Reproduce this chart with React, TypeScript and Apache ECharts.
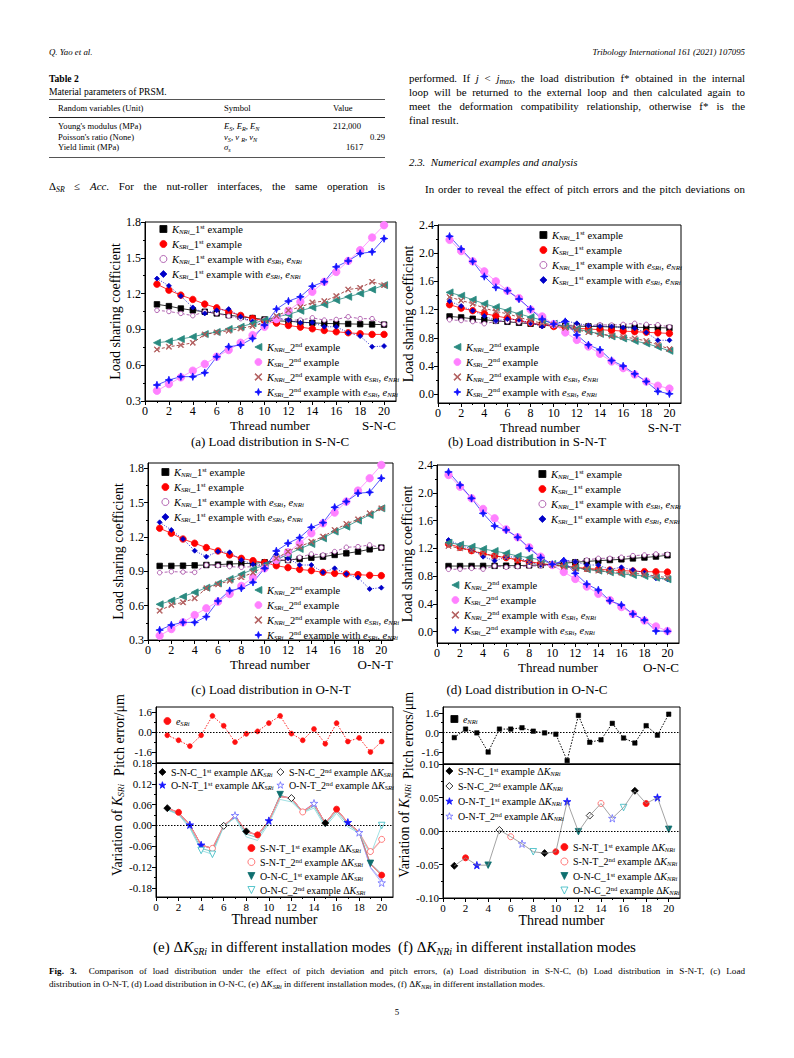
import React, { useEffect, useRef } from "react";
import * as echarts from "echarts";

const SERIF = "'Liberation Serif', 'Times New Roman', Times, serif";

// ---------- axes / ticks ----------
const THREADS = [1, 2, 3, 4, 5, 6, 7, 8, 9, 10, 11, 12, 13, 14, 15, 16, 17, 18, 19, 20];
const X_TICKS = [0, 2, 4, 6, 8, 10, 12, 14, 16, 18, 20];
const X_MINOR = [1, 3, 5, 7, 9, 11, 13, 15, 17, 19];
const Y_TICKS_A = [0.3, 0.6, 0.9, 1.2, 1.5, 1.8];
const Y_MINOR_A = [0.45, 0.75, 1.05, 1.35, 1.65];
const Y_TICKS_B = [0, 0.4, 0.8, 1.2, 1.6, 2.0, 2.4];
const Y_MINOR_B = [0.2, 0.6, 1.0, 1.4, 1.8, 2.2];
const PITCH_TICKS = [-1.6, 0, 1.6];
const PITCH_MINOR = [-0.8, 0.8];
const DKS_TICKS = [-0.18, -0.12, -0.06, 0, 0.06, 0.12, 0.18];
const DKS_MINOR = [-0.15, -0.09, -0.03, 0.03, 0.09, 0.15];
const DKN_TICKS = [-0.1, -0.05, 0, 0.05, 0.1];
const DKN_MINOR = [-0.075, -0.025, 0.025, 0.075];

// ---------- (a) S-N-C ----------
const SNC_KN1 = [1.11, 1.095, 1.075, 1.06, 1.048, 1.034, 1.02, 1.006, 0.995, 0.983, 0.972, 0.968, 0.961, 0.955, 0.95, 0.948, 0.946, 0.944, 0.942, 0.94];
const SNC_KS1 = [1.279, 1.229, 1.187, 1.151, 1.112, 1.081, 1.048, 1.017, 0.992, 0.972, 0.953, 0.933, 0.919, 0.905, 0.891, 0.88, 0.872, 0.864, 0.858, 0.858];
const SNC_KN1E = [1.06, 1.05, 1.034, 1.015, 1.048, 1.034, 1.012, 0.99, 0.97, 0.983, 0.992, 0.978, 0.978, 0.997, 0.978, 0.983, 1.006, 0.99, 0.99, 0.944];
const SNC_KS1E = [1.326, 1.265, 1.179, 1.084, 1.034, 1.06, 1.07, 1.006, 0.966, 0.936, 0.997, 0.978, 0.955, 0.958, 0.922, 0.922, 0.872, 0.844, 0.755, 0.76];
const SNC_KN2 = [0.788, 0.8, 0.819, 0.838, 0.861, 0.878, 0.903, 0.922, 0.95, 0.978, 1.006, 1.025, 1.056, 1.084, 1.109, 1.145, 1.173, 1.201, 1.234, 1.271];
const SNC_KS2 = [0.386, 0.442, 0.498, 0.554, 0.61, 0.671, 0.727, 0.788, 0.852, 0.922, 0.986, 1.056, 1.131, 1.215, 1.299, 1.382, 1.474, 1.564, 1.67, 1.773];
const SNC_KN2E = [0.732, 0.755, 0.769, 0.788, 0.858, 0.875, 0.889, 0.908, 0.928, 0.955, 1.012, 1.06, 1.087, 1.126, 1.137, 1.179, 1.234, 1.248, 1.299, 1.271];
const SNC_KS2E = [0.434, 0.476, 0.504, 0.504, 0.537, 0.671, 0.755, 0.769, 0.824, 0.936, 1.07, 1.137, 1.173, 1.262, 1.299, 1.424, 1.474, 1.536, 1.55, 1.661];

// ---------- (b) S-N-T ----------
const SNT_KN1 = [1.103, 1.089, 1.07, 1.056, 1.041, 1.027, 1.013, 0.999, 0.985, 0.975, 0.97, 0.965, 0.962, 0.958, 0.955, 0.952, 0.949, 0.946, 0.943, 0.94];
const SNT_KS1 = [1.27, 1.22, 1.185, 1.145, 1.11, 1.08, 1.045, 1.01, 0.985, 0.96, 0.945, 0.935, 0.925, 0.915, 0.905, 0.895, 0.887, 0.878, 0.87, 0.862];
const SNT_KN1E = [1.056, 1.045, 1.03, 1.0, 1.032, 1.03, 1.02, 1.005, 0.99, 0.98, 0.975, 0.98, 0.975, 0.985, 0.98, 0.99, 1.005, 0.99, 0.985, 0.955];
const SNT_KS1E = [1.32, 1.25, 1.185, 1.11, 1.04, 1.065, 1.055, 1.01, 0.96, 0.995, 1.04, 1.005, 0.975, 0.965, 0.96, 0.945, 0.935, 0.875, 0.765, 0.765];
const SNT_KN2 = [1.444, 1.396, 1.34, 1.283, 1.235, 1.188, 1.141, 1.093, 1.05, 1.0, 0.96, 0.925, 0.89, 0.855, 0.82, 0.79, 0.755, 0.72, 0.67, 0.615];
const SNT_KS2 = [2.19, 2.03, 1.884, 1.742, 1.6, 1.468, 1.363, 1.2, 1.103, 0.994, 0.876, 0.77, 0.677, 0.573, 0.464, 0.37, 0.28, 0.18, 0.12, 0.08];
const SNT_KN2E = [1.378, 1.33, 1.283, 1.22, 1.175, 1.14, 1.093, 1.041, 1.008, 0.985, 0.94, 0.91, 0.88, 0.855, 0.83, 0.81, 0.79, 0.755, 0.7, 0.64];
const SNT_KS2E = [2.24, 2.06, 1.884, 1.67, 1.515, 1.468, 1.349, 1.207, 1.065, 0.994, 1.03, 0.84, 0.7, 0.63, 0.478, 0.4, 0.289, 0.18, 0.04, 0.005];

// ---------- (c) O-N-T ----------
const ONT_KN1 = [0.947, 0.947, 0.949, 0.952, 0.955, 0.958, 0.964, 0.967, 0.97, 0.979, 0.99, 0.999, 1.008, 1.019, 1.028, 1.043, 1.057, 1.072, 1.092, 1.107];
const ONT_KS1 = [1.276, 1.232, 1.182, 1.145, 1.107, 1.078, 1.043, 1.013, 0.993, 0.976, 0.949, 0.932, 0.917, 0.906, 0.891, 0.882, 0.877, 0.871, 0.865, 0.862];
const ONT_KN1E = [0.888, 0.897, 0.894, 0.891, 0.955, 0.949, 0.941, 0.935, 0.941, 0.955, 1.008, 0.993, 1.022, 1.051, 1.043, 1.072, 1.11, 1.115, 1.13, 1.107];
const ONT_KS1E = [1.328, 1.261, 1.182, 1.08, 1.028, 1.072, 1.066, 0.999, 0.961, 0.955, 1.049, 1.013, 0.955, 0.955, 0.891, 0.926, 0.877, 0.845, 0.746, 0.757];
const ONT_KN2 = [0.612, 0.644, 0.679, 0.716, 0.757, 0.795, 0.833, 0.874, 0.917, 0.955, 0.999, 1.049, 1.095, 1.139, 1.188, 1.247, 1.29, 1.343, 1.392, 1.45];
const ONT_KS2 = [0.338, 0.396, 0.454, 0.518, 0.577, 0.635, 0.702, 0.772, 0.845, 0.926, 0.999, 1.066, 1.145, 1.232, 1.319, 1.413, 1.509, 1.605, 1.713, 1.829];
const ONT_KN2E = [0.556, 0.606, 0.629, 0.664, 0.752, 0.786, 0.818, 0.848, 0.888, 0.941, 1.013, 1.072, 1.115, 1.159, 1.203, 1.261, 1.314, 1.354, 1.407, 1.45];
const ONT_KS2E = [0.387, 0.431, 0.454, 0.454, 0.504, 0.641, 0.731, 0.752, 0.804, 0.926, 1.078, 1.145, 1.194, 1.284, 1.325, 1.459, 1.509, 1.582, 1.59, 1.713];

// ---------- (d) O-N-C ----------
const ONC_KN1 = [0.945, 0.945, 0.946, 0.947, 0.948, 0.95, 0.952, 0.955, 0.96, 0.97, 0.985, 1.0, 1.012, 1.022, 1.032, 1.042, 1.055, 1.068, 1.082, 1.1];
const ONC_KS1 = [1.263, 1.215, 1.167, 1.119, 1.09, 1.066, 1.032, 1.008, 0.984, 0.96, 0.946, 0.927, 0.912, 0.898, 0.888, 0.879, 0.872, 0.864, 0.862, 0.859];
const ONC_KN1E = [0.898, 0.9, 0.912, 0.9, 0.946, 0.927, 0.936, 0.946, 0.946, 0.96, 1.018, 1.008, 1.032, 1.056, 1.056, 1.071, 1.095, 1.104, 1.119, 1.114];
const ONC_KS1E = [1.32, 1.248, 1.186, 1.08, 1.023, 1.071, 1.08, 0.999, 0.96, 0.96, 1.032, 1.008, 0.96, 0.96, 0.898, 0.927, 0.888, 0.85, 0.768, 0.754];
const ONC_KN2 = [1.282, 1.253, 1.224, 1.191, 1.162, 1.128, 1.09, 1.066, 1.032, 0.975, 0.946, 0.922, 0.898, 0.879, 0.855, 0.831, 0.816, 0.802, 0.778, 0.754];
const ONC_KS2 = [2.256, 2.088, 1.92, 1.767, 1.632, 1.474, 1.359, 1.215, 1.08, 0.96, 0.86, 0.76, 0.65, 0.545, 0.455, 0.355, 0.255, 0.16, 0.075, 0.01];
const ONC_KN2E = [1.234, 1.2, 1.167, 1.128, 1.09, 1.071, 1.032, 0.999, 0.975, 0.96, 0.936, 0.912, 0.9, 0.88, 0.865, 0.85, 0.84, 0.826, 0.8, 0.778];
const ONC_KS2E = [2.3, 2.112, 1.92, 1.704, 1.522, 1.464, 1.359, 1.2, 1.066, 0.97, 1.02, 0.84, 0.685, 0.6, 0.446, 0.384, 0.254, 0.168, 0.01, 0.005];

// ---------- (e) pitch error e_SRi and variation of K_SRi ----------
const PITCH_SR = [-0.26, -0.66, -1.13, -0.26, 1.29, 0.5, -0.81, -0.15, 0.05, 0.71, 1.29, -0.13, -0.66, 0.24, -0.94, 0.71, -0.76, -0.47, -1.6, -0.76];
const DKS_SNC1 = [0.05, 0.038, 0.002, -0.056, -0.066, -0.001, 0.028, -0.017, -0.027, 0.014, 0.084, 0.079, 0.039, 0.063, 0.007, 0.047, 0.009, -0.019, -0.112, -0.145];
const DKS_SNC2 = [0.049, 0.037, 0.001, -0.057, -0.066, -0.001, 0.028, -0.018, -0.028, 0.013, 0.083, 0.079, 0.039, 0.062, 0.006, 0.046, 0.008, -0.02, -0.078, -0.042];
const DKS_ONT1 = [0.05, 0.037, 0.002, -0.056, -0.066, -0.001, 0.028, -0.018, -0.027, 0.014, 0.085, 0.079, 0.04, 0.063, 0.007, 0.046, 0.009, -0.019, -0.12, -0.158];
const DKS_ONT2 = [0.049, 0.037, 0.001, -0.057, -0.067, -0.001, 0.029, -0.018, -0.028, 0.013, 0.083, 0.078, 0.041, 0.064, 0.006, 0.046, 0.008, -0.02, -0.122, -0.165];
const DKS_SNT1 = [0.05, 0.038, 0.002, -0.056, -0.066, -0.001, 0.028, -0.017, -0.027, 0.014, 0.084, 0.079, 0.039, 0.063, 0.007, 0.047, 0.009, -0.019, -0.11, -0.143];
const DKS_SNT2 = [0.049, 0.037, 0.001, -0.057, -0.066, -0.001, 0.028, -0.018, -0.028, 0.013, 0.083, 0.079, 0.039, 0.062, 0.006, 0.046, 0.008, -0.02, -0.075, -0.04];
const DKS_ONC1 = [0.046, 0.033, -0.004, -0.066, -0.075, -0.002, 0.025, -0.025, -0.035, 0.01, 0.089, 0.074, 0.038, 0.056, 0.002, 0.041, 0.003, -0.021, -0.109, -0.14];
const DKS_ONC2 = [0.045, 0.031, -0.008, -0.072, -0.083, -0.003, 0.022, -0.033, -0.043, 0.005, 0.075, 0.068, 0.037, 0.05, -0.004, 0.035, -0.004, -0.022, -0.085, 0.0];
// threads at which each series shows its marker
const DKS_MARKS = {
  SNC1: [1, 8, 15],
  SNC2: [6, 12],
  ONT1: [3, 4, 10, 17],
  ONT2: [7, 14, 18, 20],
  SNT1: [2, 9, 16, 20],
  SNT2: [5, 13, 19, 20],
  ONC1: [11, 19],
  ONC2: [4, 5, 20],
};

// ---------- (f) pitch error e_NRi and variation of K_NRi ----------
const PITCH_NR = [-0.42, 0.28, -0.03, -1.6, 0.28, 0.28, 0.39, 0.11, -0.03, -0.14, -2.3, 1.4, -0.8, -0.6, 0.75, -0.45, -0.86, 0.56, -0.22, 1.5];
const DKN_VAR = [-0.052, -0.04, -0.051, -0.051, 0.0015, -0.0085, -0.019, -0.031, -0.033, -0.031, 0.044, -0.001, 0.023, 0.041, 0.019, 0.035, 0.06, 0.041, 0.05, 0.0025];
// which series (index in DK_KEYS) each thread's marker belongs to
const DKN_OWNER = [0, 4, 2, 6, 1, 5, 3, 7, 0, 4, 2, 6, 1, 5, 3, 7, 0, 4, 2, 6];

// ---------- symbols & styles ----------
const SYM_LTRI = "path://M0,5L10,0L10,10Z";
const SYM_DTRI = "path://M0,0L10,0L5,10Z";
const SYM_CROSS = "path://M1,0L5,4L9,0L10,1L6,5L10,9L9,10L5,6L1,10L0,9L4,5L0,1Z";
const SYM_STAR4 = "path://M5,0L6.3,3.7L10,5L6.3,6.3L5,10L3.7,6.3L0,5L3.7,3.7Z";
const SYM_STAR5 = "path://M5,0L6.18,3.62L10,3.62L6.91,5.86L8.09,9.5L5,7.25L1.91,9.5L3.09,5.86L0,3.62L3.82,3.62Z";

const LOAD_KEYS = ["KN1", "KS1", "KN1e", "KS1e", "KN2", "KS2", "KN2e", "KS2e"];
const LOAD_STYLE: any = {
  KN1: { symbol: "rect", size: 5.5, fill: "#000000", stroke: "#000000", line: "#000000", type: "solid" },
  KS1: { symbol: "circle", size: 6.5, fill: "#ff0000", stroke: "#ff0000", line: "#ff0000", type: "solid" },
  KN1e: { symbol: "circle", size: 4.5, fill: "#ffffff", stroke: "#a040a0", line: "#a040a0", type: [3, 2] },
  KS1e: { symbol: "diamond", size: 5, fill: "#0000c8", stroke: "#0000c8", line: "#0000c8", type: [1, 1.5] },
  KN2: { symbol: SYM_LTRI, size: 7, fill: "#2a8a80", stroke: "#2a8a80", line: "#2a8a80", type: "solid" },
  KS2: { symbol: "circle", size: 7.5, fill: "#ff80ff", stroke: "#ff80ff", line: "#ff80ff", type: "solid" },
  KN2e: { symbol: SYM_CROSS, size: 5.5, fill: "#b05a5a", stroke: "#b05a5a", line: "#902020", type: [3, 2] },
  KS2e: { symbol: SYM_STAR4, size: 7.5, fill: "#1010ff", stroke: "#1010ff", line: "#2a2aff", type: "solid" },
};
const LOAD_LABELS: any = {
  KN1: "{i|K}{s|NRi}{r|_1}{p|st}{r| example}",
  KS1: "{i|K}{s|SRi}{r|_1}{p|st}{r| example}",
  KN1e: "{i|K}{s|NRi}{r|_1}{p|st}{r| example with }{i|e}{s|SRi}{r|, }{i|e}{s|NRi}",
  KS1e: "{i|K}{s|SRi}{r|_1}{p|st}{r| example with }{i|e}{s|SRi}{r|, }{i|e}{s|NRi}",
  KN2: "{i|K}{s|NRi}{r|_2}{p|nd}{r| example}",
  KS2: "{i|K}{s|SRi}{r|_2}{p|nd}{r| example}",
  KN2e: "{i|K}{s|NRi}{r|_2}{p|nd}{r| example with }{i|e}{s|SRi}{r|, }{i|e}{s|NRi}",
  KS2e: "{i|K}{s|SRi}{r|_2}{p|nd}{r| example with }{i|e}{s|SRi}{r|, }{i|e}{s|NRi}",
};

const DK_KEYS = ["SNC1", "SNC2", "ONT1", "ONT2", "SNT1", "SNT2", "ONC1", "ONC2"];
const DK_STYLE: any = {
  SNC1: { symbol: "diamond", size: 7, fill: "#000000", stroke: "#000000", line: "#e07a7a" },
  SNC2: { symbol: "diamond", size: 7, fill: "#ffffff", stroke: "#000000", line: "#e07a7a" },
  ONT1: { symbol: SYM_STAR5, size: 7.5, fill: "#1515ff", stroke: "#1515ff", line: "#8a8af0" },
  ONT2: { symbol: SYM_STAR5, size: 7.5, fill: "#ffffff", stroke: "#6a6aff", line: "#a0a0ff" },
  SNT1: { symbol: "circle", size: 6, fill: "#ff1010", stroke: "#ff1010", line: "#f06a6a" },
  SNT2: { symbol: "circle", size: 6, fill: "#ffffff", stroke: "#ff5a5a", line: "#ff9a9a" },
  ONC1: { symbol: SYM_DTRI, size: 6.5, fill: "#0e6f6f", stroke: "#0e6f6f", line: "#5ab4b4" },
  ONC2: { symbol: SYM_DTRI, size: 6.5, fill: "#ffffff", stroke: "#30b8c0", line: "#86d8dc" },
};
const DK_NAMES: any = {
  SNC1: ["S-N-C_1", "st"], SNC2: ["S-N-C_2", "nd"], ONT1: ["O-N-T_1", "st"], ONT2: ["O-N-T_2", "nd"],
  SNT1: ["S-N-T_1", "st"], SNT2: ["S-N-T_2", "nd"], ONC1: ["O-N-C_1", "st"], ONC2: ["O-N-C_2", "nd"],
};

function richSet(size: number, lh: number) {
  return {
    r: { fontFamily: SERIF, fontSize: size, lineHeight: lh, color: "#000" },
    i: { fontFamily: SERIF, fontSize: size, fontStyle: "italic", lineHeight: lh, color: "#000" },
    s: { fontFamily: SERIF, fontSize: size * 0.66, fontStyle: "italic", lineHeight: size * 0.66, verticalAlign: "bottom", color: "#000" },
    p: { fontFamily: SERIF, fontSize: size * 0.66, lineHeight: size * 0.66, verticalAlign: "top", color: "#000" },
  };
}
const LEG_RICH = richSet(10.5, 12);
const LEG_RICH_S = richSet(10, 11);
const NAME_RICH = richSet(14, 16);

function fmt(v: number, dec: number) {
  const n = Number(v);
  return (Math.abs(n) < 1e-9 ? 0 : n).toFixed(dec);
}

function buildOption() {
  const grids: any[] = [];
  const xAxes: any[] = [];
  const yAxes: any[] = [];
  const series: any[] = [];
  const legends: any[] = [];
  const graphics: any[] = [];

  const nameFont = { fontFamily: SERIF, fontSize: 14, color: "#000", rich: NAME_RICH };

  function addCell(g: any, xs: any, ys: any) {
    const tickFont = { fontFamily: SERIF, fontSize: ys.tickSize || 12, color: "#000" };
    const gi = grids.length;
    grids.push({ left: g.left, top: g.top, width: g.width, height: g.height, show: true, borderColor: "#000", borderWidth: 1, backgroundColor: "rgba(0,0,0,0)" });
    const xi = xAxes.length;
    xAxes.push({
      type: "value", gridIndex: gi, min: 0, max: 21, position: "bottom",
      axisLine: { show: true, onZero: false, lineStyle: { color: "#000", width: 1 } },
      axisTick: { show: xs.labels, inside: false, length: 4, customValues: X_TICKS, lineStyle: { color: "#000", width: 1 } },
      axisLabel: { show: xs.labels, customValues: X_TICKS, margin: 4, ...tickFont },
      splitLine: { show: false },
      name: xs.name || "", nameLocation: "middle", nameGap: xs.nameGap, nameTextStyle: nameFont,
    });
    xAxes.push({
      type: "value", gridIndex: gi, min: 0, max: 21, position: "bottom",
      axisLine: { show: false, onZero: false },
      axisTick: { show: xs.labels, inside: false, length: 2, customValues: X_MINOR, lineStyle: { color: "#000", width: 1 } },
      axisLabel: { show: false }, splitLine: { show: false },
    });
    const yi = yAxes.length;
    yAxes.push({
      type: "value", gridIndex: gi, min: ys.min, max: ys.max, position: "left",
      axisLine: { show: true, onZero: false, lineStyle: { color: "#000", width: 1 } },
      axisTick: { show: true, inside: false, length: 4, customValues: ys.ticks, lineStyle: { color: "#000", width: 1 } },
      axisLabel: { show: true, customValues: ys.ticks, margin: 4, formatter: (v: number) => fmt(v, ys.dec), ...tickFont },
      splitLine: { show: false },
      name: ys.name, nameLocation: "middle", nameGap: ys.nameGap, nameTextStyle: nameFont,
    });
    yAxes.push({
      type: "value", gridIndex: gi, min: ys.min, max: ys.max, position: "left",
      axisLine: { show: false, onZero: false },
      axisTick: { show: true, inside: false, length: 2, customValues: ys.minor, lineStyle: { color: "#000", width: 1 } },
      axisLabel: { show: false }, splitLine: { show: false },
    });
    return { xi, yi };
  }

  function addLegend(names: string[], cx: number, cy: number, gap: number, labelOf: (n: string) => string, styleOf: (n: string) => any, rich: any, lh: number) {
    legends.push({
      show: true, orient: "vertical", left: cx - 3.5, top: cy - lh / 2, itemWidth: 7, itemHeight: 7, itemGap: gap, padding: 0,
      selectedMode: false,
      data: names.map((n) => {
        const st = styleOf(n);
        return { name: n, icon: st.symbol, itemStyle: { color: st.fill, borderColor: st.stroke, borderWidth: 0.8 } };
      }),
      formatter: (n: string) => labelOf(n),
      textStyle: { fontFamily: SERIF, fontSize: 10.5, color: "#000", lineHeight: lh, rich },
    });
  }

  function text(x: number, y: number, t: string, size: number, align: string, rich?: any) {
    graphics.push({
      type: "text", x, y, silent: true,
      style: { text: t, fontFamily: SERIF, fontSize: size, fill: "#000", align, verticalAlign: "middle", rich },
    });
  }

  // ---- load distribution panels ----
  const LOAD_PANELS = [
    { id: "a", data: [SNC_KN1, SNC_KS1, SNC_KN1E, SNC_KS1E, SNC_KN2, SNC_KS2, SNC_KN2E, SNC_KS2E], grid: { left: 145, top: 222, width: 251, height: 179 }, min: 0.3, max: 1.8, ticks: Y_TICKS_A, minor: Y_MINOR_A, leg1: [163, 229], leg2: [258, 347], title: "(a) Load distribution in S-N-C", tpos: [270, 441], mode: "S-N-C", xname: [270, 425] },
    { id: "b", data: [SNT_KN1, SNT_KS1, SNT_KN1E, SNT_KS1E, SNT_KN2, SNT_KS2, SNT_KN2E, SNT_KS2E], grid: { left: 438, top: 225, width: 243, height: 178 }, min: -0.125, max: 2.4, ticks: Y_TICKS_B, minor: Y_MINOR_B, leg1: [543, 235], leg2: [457, 347], title: "(b) Load distribution in S-N-T", tpos: [527, 441], mode: "S-N-T", xname: [540, 427] },
    { id: "c", data: [ONT_KN1, ONT_KS1, ONT_KN1E, ONT_KS1E, ONT_KN2, ONT_KS2, ONT_KN2E, ONT_KS2E], grid: { left: 148, top: 463, width: 245, height: 177 }, min: 0.3, max: 1.846, ticks: Y_TICKS_A, minor: Y_MINOR_A, leg1: [165, 472], leg2: [258, 590], title: "(c) Load distribution in O-N-T", tpos: [271, 689], mode: "O-N-T", xname: [270, 664] },
    { id: "d", data: [ONC_KN1, ONC_KS1, ONC_KN1E, ONC_KS1E, ONC_KN2, ONC_KS2, ONC_KN2E, ONC_KS2E], grid: { left: 437, top: 465, width: 242, height: 178 }, min: -0.163, max: 2.4, ticks: Y_TICKS_B, minor: Y_MINOR_B, leg1: [542, 474], leg2: [455, 585], title: "(d) Load distribution in O-N-C", tpos: [527, 689], mode: "O-N-C", xname: [558, 667] },
  ];

  LOAD_PANELS.forEach((p) => {
    const { xi, yi } = addCell(p.grid, { labels: true, nameGap: 16 }, { min: p.min, max: p.max, ticks: p.ticks, minor: p.minor, dec: 1, name: "Load sharing coefficient", nameGap: 21 });
    LOAD_KEYS.forEach((k, idx) => {
      const st = LOAD_STYLE[k];
      series.push({
        type: "line", name: p.id + ":" + k, xAxisIndex: xi, yAxisIndex: yi,
        data: THREADS.map((t, i) => [t, p.data[idx][i]]),
        symbol: st.symbol, symbolSize: st.size, showSymbol: true, clip: false, silent: true,
        itemStyle: { color: st.fill, borderColor: st.stroke, borderWidth: 0.8 },
        lineStyle: { color: st.line, width: 0.8, type: st.type },
        emphasis: { disabled: true },
      });
    });
    const lab = (n: string) => LOAD_LABELS[n.split(":")[1]];
    const sty = (n: string) => LOAD_STYLE[n.split(":")[1]];
    addLegend(LOAD_KEYS.slice(0, 4).map((k) => p.id + ":" + k), p.leg1[0], p.leg1[1], 3, lab, sty, LEG_RICH, 12);
    addLegend(LOAD_KEYS.slice(4).map((k) => p.id + ":" + k), p.leg2[0], p.leg2[1], 3, lab, sty, LEG_RICH, 12);
    text(p.tpos[0], p.tpos[1], p.title, 13, "center");
    text(p.xname[0], p.xname[1], "Thread number", 13, "center");
    text(p.grid.left + p.grid.width, p.xname[1], p.mode, 13, "right");
  });

  // ---- (e) ----
  const zeroLine = { silent: true, symbol: "none", label: { show: false }, lineStyle: { type: [1.5, 1.5], color: "#000", width: 1 }, data: [{ yAxis: 0 }] };

  const eUp = addCell({ left: 156, top: 707, width: 237, height: 56 }, { labels: false, nameGap: 0 }, { min: -2.48, max: 2.0, ticks: PITCH_TICKS, minor: PITCH_MINOR, dec: 1, name: "Pitch error/\u03bcm", nameGap: 30, tickSize: 11 });
  series.push({
    type: "line", name: "e:pitch", xAxisIndex: eUp.xi, yAxisIndex: eUp.yi,
    data: THREADS.map((t, i) => [t, PITCH_SR[i]]),
    symbol: "circle", symbolSize: 5, showSymbol: true, silent: true,
    itemStyle: { color: "#ff1010", borderColor: "#ff1010", borderWidth: 0.5 },
    lineStyle: { color: "#ff2020", width: 1, type: [1.5, 1.5] },
    markLine: zeroLine,
  });
  addLegend(["e:pitch"], 167, 721, 3, () => "{i|e}{s|SRi}", () => ({ symbol: "circle", fill: "#ff1010", stroke: "#ff1010" }), LEG_RICH_S, 11);

  const eLo = addCell({ left: 156, top: 763, width: 237, height: 134 }, { labels: true, nameGap: 15.5, name: "Thread number" }, { min: -0.206, max: 0.18, ticks: DKS_TICKS, minor: DKS_MINOR, dec: 2, name: "{r|Variation of }{i|K}{s|SRi}", nameGap: 30, tickSize: 11 });
  const DKS_DATA: any = { SNC1: DKS_SNC1, SNC2: DKS_SNC2, ONT1: DKS_ONT1, ONT2: DKS_ONT2, SNT1: DKS_SNT1, SNT2: DKS_SNT2, ONC1: DKS_ONC1, ONC2: DKS_ONC2 };
  const E_ORDER = ["ONT1", "ONT2", "SNC1", "SNC2", "ONC1", "SNT1", "SNT2", "ONC2"];
  E_ORDER.forEach((k, n) => {
    const st = DK_STYLE[k];
    const marks: number[] = (DKS_MARKS as any)[k];
    series.push({
      type: "line", name: "e:" + k, xAxisIndex: eLo.xi, yAxisIndex: eLo.yi,
      data: THREADS.map((t, i) => ({ value: [t, DKS_DATA[k][i]], symbol: marks.indexOf(t) >= 0 ? st.symbol : "none" })),
      symbol: st.symbol, symbolSize: st.size, showSymbol: true, silent: true, clip: false,
      itemStyle: { color: st.fill, borderColor: st.stroke, borderWidth: 0.8 },
      lineStyle: { color: st.line, width: 0.8 },
      markLine: n === 0 ? zeroLine : undefined,
    });
  });
  const eLab = (n: string) => {
    const k = n.split(":")[1];
    return "{r|" + DK_NAMES[k][0] + "}{p|" + DK_NAMES[k][1] + "}{r| example \u0394}{i|K}{s|SRi}";
  };
  const dkSty = (n: string) => DK_STYLE[n.split(":")[1]];
  addLegend(["e:SNC1", "e:ONT1"], 162, 772, 2, eLab, dkSty, LEG_RICH_S, 11);
  addLegend(["e:SNC2", "e:ONT2"], 280, 772, 2, eLab, dkSty, LEG_RICH_S, 11);
  addLegend(["e:SNT1", "e:SNT2", "e:ONC1", "e:ONC2"], 251, 848, 3, eLab, dkSty, LEG_RICH_S, 11);

  // ---- (f) ----
  const fUp = addCell({ left: 443, top: 707, width: 237, height: 57 }, { labels: false, nameGap: 0 }, { min: -2.58, max: 2.09, ticks: PITCH_TICKS, minor: PITCH_MINOR, dec: 1, name: "Pitch errors/\u03bcm", nameGap: 28, tickSize: 11 });
  series.push({
    type: "line", name: "f:pitch", xAxisIndex: fUp.xi, yAxisIndex: fUp.yi,
    data: THREADS.map((t, i) => [t, PITCH_NR[i]]),
    symbol: "rect", symbolSize: 4.5, showSymbol: true, silent: true,
    itemStyle: { color: "#000", borderColor: "#000", borderWidth: 0.5 },
    lineStyle: { color: "#000", width: 1, type: [1.5, 1.5] },
    markLine: zeroLine,
  });
  addLegend(["f:pitch"], 454, 719, 3, () => "{i|e}{s|NRi}", () => ({ symbol: "rect", fill: "#000", stroke: "#000" }), LEG_RICH_S, 11);

  const fLo = addCell({ left: 443, top: 764, width: 237, height: 134 }, { labels: true, nameGap: 15.5, name: "Thread number" }, { min: -0.1, max: 0.1, ticks: DKN_TICKS, minor: DKN_MINOR, dec: 2, name: "{r|Variation of }{i|K}{s|NRi}", nameGap: 28, tickSize: 11 });
  series.push({
    type: "line", name: "f:line", xAxisIndex: fLo.xi, yAxisIndex: fLo.yi,
    data: THREADS.map((t, i) => [t, DKN_VAR[i]]),
    symbol: "none", silent: true,
    lineStyle: { color: "#8c8c8c", width: 0.8 },
    markLine: zeroLine,
  });
  DK_KEYS.forEach((k, idx) => {
    const st = DK_STYLE[k];
    series.push({
      type: "scatter", name: "f:" + k, xAxisIndex: fLo.xi, yAxisIndex: fLo.yi,
      data: THREADS.filter((t, i) => DKN_OWNER[i] === idx).map((t) => [t, DKN_VAR[t - 1]]),
      symbol: st.symbol, symbolSize: st.size, silent: true,
      itemStyle: { color: st.fill, borderColor: st.stroke, borderWidth: 0.8, opacity: 1 },
    });
  });
  const fLab = (n: string) => {
    const k = n.split(":")[1];
    return "{r|" + DK_NAMES[k][0] + "}{p|" + DK_NAMES[k][1] + "}{r| example \u0394}{i|K}{s|NRi}";
  };
  addLegend(["f:SNC1", "f:SNC2", "f:ONT1", "f:ONT2"], 449, 771, 4, fLab, dkSty, LEG_RICH_S, 11);
  addLegend(["f:SNT1", "f:SNT2", "f:ONC1", "f:ONC2"], 564, 847, 3.5, fLab, dkSty, LEG_RICH_S, 11);

  const TITLE_RICH = {
    r: { fontFamily: SERIF, fontSize: 15, lineHeight: 18 },
    i: { fontFamily: SERIF, fontSize: 15, fontStyle: "italic", lineHeight: 18 },
    s: { fontFamily: SERIF, fontSize: 10, fontStyle: "italic", lineHeight: 10, verticalAlign: "bottom" },
  };
  text(272, 947, "{r|(e) \u0394}{i|K}{s|SRi}{r| in different installation modes}", 15, "center", TITLE_RICH);
  text(517, 947, "{r|(f) \u0394}{i|K}{s|NRi}{r| in different installation modes}", 15, "center", TITLE_RICH);

  return {
    animation: false,
    backgroundColor: "transparent",
    grid: grids,
    xAxis: xAxes,
    yAxis: yAxes,
    series,
    legend: legends,
    graphic: { elements: graphics },
  };
}

const SUB: React.CSSProperties = { fontSize: "0.72em", verticalAlign: "-0.28em", lineHeight: 0 };

function Line(props: { x: number; y: number; w?: number; size: number; lh?: number; justify?: boolean; style?: React.CSSProperties; children: any }) {
  const lh = props.lh || props.size * 1.3;
  return (
    <div
      style={{
        position: "absolute", left: props.x, top: props.y - lh / 2, width: props.w, height: lh, lineHeight: lh + "px",
        fontSize: props.size, textAlign: props.justify ? "justify" : "left", textAlignLast: props.justify ? "justify" : "auto",
        whiteSpace: props.w ? "normal" : "nowrap", overflow: "visible", ...(props.style || {}),
      }}
    >
      {props.children}
    </div>
  );
}

export default function App() {
  const ref = useRef<HTMLDivElement>(null);
  useEffect(() => {
    const chart = echarts.init(ref.current as HTMLDivElement, null, { renderer: "svg" });
    chart.setOption(buildOption() as any);
    return () => chart.dispose();
  }, []);

  const BODY = 10.9;
  const TAB = 8.6;
  const CAP = 9.1;
  const rule = (y: number, h: number, c: string) => (
    <div style={{ position: "absolute", left: 49, top: y - h / 2, width: 336, height: h, background: c }} />
  );

  return (
    <div style={{ position: "absolute", left: 0, top: 0, width: 794, height: 1058, background: "#fff", fontFamily: SERIF, color: "#000", overflow: "hidden" }}>
      <div ref={ref} style={{ position: "absolute", left: 0, top: 0, width: 794, height: 1058 }} />

      {/* running heads */}
      <Line x={49} y={53} size={8.8} style={{ fontStyle: "italic" }}>Q. Yao et al.</Line>
      <Line x={445} y={53} w={300} size={8.8} style={{ fontStyle: "italic", textAlign: "right" }}>Tribology International 161 (2021) 107095</Line>

      {/* Table 2 */}
      <Line x={49} y={79} size={9.6} style={{ fontWeight: "bold" }}>Table 2</Line>
      <Line x={49} y={92} size={9.6}>Material parameters of PRSM.</Line>
      {rule(99.5, 1.4, "#555")}
      <Line x={58} y={109} size={TAB}>Random variables (Unit)</Line>
      <Line x={224} y={109} size={TAB}>Symbol</Line>
      <Line x={333} y={109} size={TAB}>Value</Line>
      {rule(117, 0.8, "#222")}
      <Line x={58} y={127} size={TAB}>Young's modulus (MPa)</Line>
      <Line x={224} y={127} size={TAB}><i>E<sub style={SUB}>S</sub>, E<sub style={SUB}>R</sub>, E<sub style={SUB}>N</sub></i></Line>
      <Line x={333} y={127} size={TAB}>212,000</Line>
      <Line x={58} y={137.5} size={TAB}>Poisson's ratio (None)</Line>
      <Line x={224} y={137.5} size={TAB}><i>v<sub style={SUB}>S</sub>, v <sub style={SUB}>R</sub>, v<sub style={SUB}>N</sub></i></Line>
      <Line x={285} y={137.5} w={100} size={TAB} style={{ textAlign: "right" }}>0.29</Line>
      <Line x={58} y={148} size={TAB}>Yield limit (MPa)</Line>
      <Line x={224} y={148} size={TAB}><i>σ<sub style={SUB}>s</sub></i></Line>
      <Line x={346} y={148} size={TAB}>1617</Line>
      {rule(157.5, 1.4, "#555")}

      <Line x={49} y={186} w={336} size={BODY} justify>
        Δ<sub style={SUB}><i>SR</i></sub> ≤ <i>Acc</i>. For the nut-roller interfaces, the same operation is
      </Line>

      {/* right column */}
      <Line x={409} y={78} w={336} size={BODY} justify>
        performed. If <i>j</i> &lt; <i>j<sub style={SUB}>max</sub></i>, the load distribution f* obtained in the internal
      </Line>
      <Line x={409} y={92} w={336} size={BODY} justify>loop will be returned to the external loop and then calculated again to</Line>
      <Line x={409} y={106} w={336} size={BODY} justify>meet the deformation compatibility relationship, otherwise f* is the</Line>
      <Line x={409} y={120} size={BODY}>final result.</Line>
      <Line x={409} y={162} size={BODY} style={{ fontStyle: "italic" }}>2.3.&nbsp; Numerical examples and analysis</Line>
      <Line x={425} y={189} w={320} size={BODY} justify>In order to reveal the effect of pitch errors and the pitch deviations on</Line>

      {/* caption */}
      <Line x={49} y={972} w={696} size={CAP} justify>
        <b>Fig. 3.</b>&nbsp; Comparison of load distribution under the effect of pitch deviation and pitch errors, (a) Load distribution in S-N-C, (b) Load distribution in S-N-T, (c) Load
      </Line>
      <Line x={49} y={984.5} size={CAP}>
        distribution in O-N-T, (d) Load distribution in O-N-C, (e) Δ<i>K</i><sub style={SUB}><i>SRi</i></sub> in different installation modes, (f) Δ<i>K</i><sub style={SUB}><i>NRi</i></sub> in different installation modes.
      </Line>
      <Line x={347} y={1013} w={100} size={8.8} style={{ textAlign: "center" }}>5</Line>
    </div>
  );
}
